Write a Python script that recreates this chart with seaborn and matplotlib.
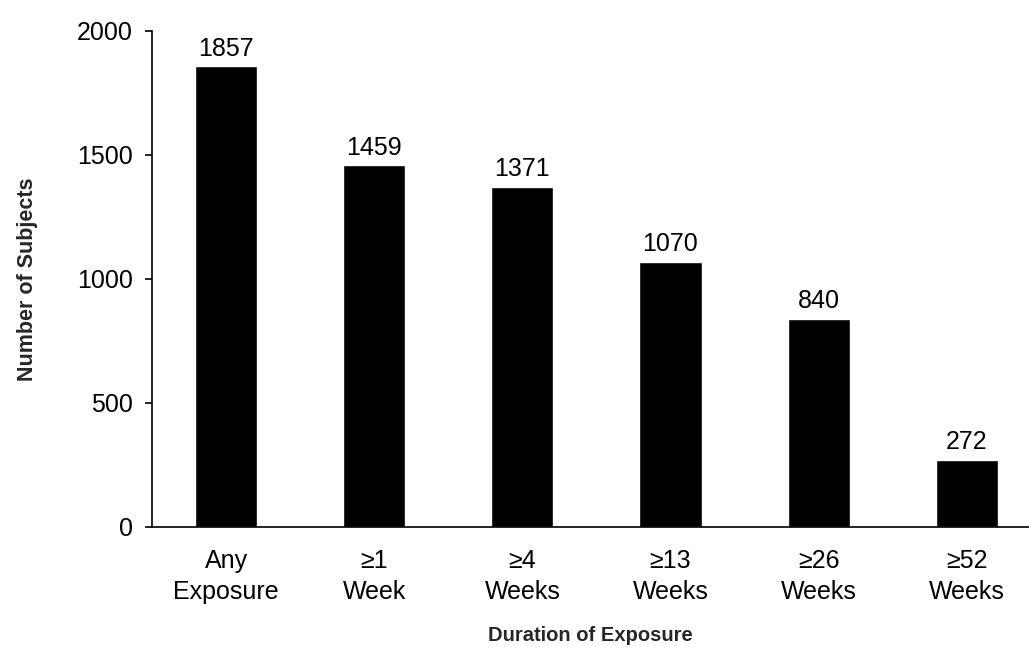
import matplotlib
matplotlib.use("Agg")
import matplotlib.pyplot as plt
import seaborn as sns
import pandas as pd

# Exposure-duration categories and subject counts
categories = ["Any\nExposure", "\u22651\nWeek", "\u22654\nWeeks", "\u226513\nWeeks", "\u226526\nWeeks", "\u226552\nWeeks"]
subjects = [1857, 1459, 1371, 1070, 840, 272]
y_ticks = [0, 500, 1000, 1500, 2000]

sns.set_theme(style="ticks")
plt.rcParams["font.family"] = ["Liberation Sans", "DejaVu Sans"]

df = pd.DataFrame({"Duration": categories, "Subjects": subjects})

fig = plt.figure(figsize=(10.29, 6.47), dpi=100)
ax = fig.add_axes([0.1477, 0.1855, 0.8523, 0.7666])

sns.barplot(data=df, x="Duration", y="Subjects", color="black", saturation=1,
            width=0.42, ax=ax)

for p, v in zip(ax.patches, subjects):
    ax.annotate(f"{v}", (p.get_x() + p.get_width() / 2, v),
                xytext=(0, 4), textcoords="offset points",
                ha="center", va="bottom", fontsize=18, color="black")

ax.set_ylim(0, 2000)
ax.set_xlim(-0.5, 5.42)
ax.set_yticks(y_ticks)
ax.tick_params(axis="y", length=5, width=1.2, pad=9, labelsize=18, colors="black")
ax.tick_params(axis="x", length=0, pad=16, labelsize=18, colors="black")
for lbl in ax.get_xticklabels():
    lbl.set_linespacing(1.36)

for side in ["top", "right"]:
    ax.spines[side].set_visible(False)
for side in ["left", "bottom"]:
    ax.spines[side].set_color("black")
    ax.spines[side].set_linewidth(1.2)

ax.set_xlabel("Duration of Exposure", fontsize=14.5, fontweight="bold")
ax.set_ylabel("Number of Subjects", fontsize=15.5, fontweight="bold")
ax.xaxis.set_label_coords(0.5, -0.2)
ax.yaxis.set_label_coords(-0.13, 0.5)

fig.savefig("out.png", dpi=100, facecolor="white")
